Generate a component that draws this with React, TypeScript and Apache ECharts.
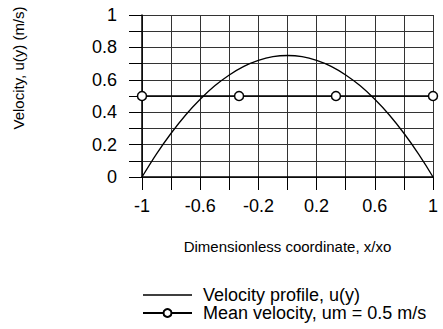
import React, { useEffect, useRef } from "react";
import * as echarts from "echarts";

const profileX = [-1, -0.9, -0.8, -0.7, -0.6, -0.5, -0.4, -0.3, -0.2, -0.1, 0, 0.1, 0.2, 0.3, 0.4, 0.5, 0.6, 0.7, 0.8, 0.9, 1];
const profileU = [0, 0.143, 0.27, 0.383, 0.48, 0.563, 0.63, 0.683, 0.72, 0.743, 0.75, 0.743, 0.72, 0.683, 0.63, 0.563, 0.48, 0.383, 0.27, 0.143, 0];
const meanX = [-1, -0.333, 0.333, 1];
const meanU = [0.5, 0.5, 0.5, 0.5];
const xLabels = ["-1", "-0.6", "-0.2", "0.2", "0.6", "1"];
const yLabels = ["0", "0.2", "0.4", "0.6", "0.8", "1"];

const FONT = "Liberation Sans, Arial, sans-serif";
const LINE_ICON = "path://M0,0h0.01v0.01h-0.01z M0,4.3h49v1.4h-49z M48.99,9.99h0.01v0.01h-0.01z";

export default function App() {
  const ref = useRef<HTMLDivElement>(null);
  useEffect(() => {
    const chart = echarts.init(ref.current!, null, { renderer: "svg" });
    const fmt = (labels: string[]) => (v: number) => {
      const s = String(Math.round(v * 10) / 10);
      return labels.includes(s) ? s : "";
    };
    chart.setOption({
      animation: false,
      grid: { left: 142, right: 10, top: 15, bottom: 152 },
      xAxis: {
        type: "value",
        min: -1,
        max: 1,
        interval: 0.2,
        name: "Dimensionless coordinate, x/xo",
        nameLocation: "middle",
        nameGap: 62,
        nameTextStyle: { color: "#000", fontSize: 15, fontFamily: FONT },
        axisLine: { onZero: false, lineStyle: { color: "#000", width: 1.5 } },
        axisTick: { length: 13, lineStyle: { color: "#000" } },
        axisLabel: { formatter: fmt(xLabels), color: "#000", fontSize: 18, fontFamily: FONT, margin: 20 },
        splitLine: { show: true, lineStyle: { color: "#333", width: 1 } },
      },
      yAxis: {
        type: "value",
        min: 0,
        max: 1,
        interval: 0.1,
        axisLine: { show: true, onZero: false, lineStyle: { color: "#000", width: 1.5 } },
        axisTick: { show: true, length: 13, lineStyle: { color: "#000" } },
        axisLabel: { formatter: fmt(yLabels), color: "#000", fontSize: 18, fontFamily: FONT, margin: 25 },
        splitLine: { show: true, lineStyle: { color: "#333", width: 1 } },
      },
      legend: {
        orient: "vertical",
        left: 142,
        top: 286,
        padding: 0,
        itemWidth: 49,
        itemHeight: 10,
        itemGap: 0,
        textStyle: { color: "#000", fontSize: 18, fontFamily: FONT, lineHeight: 18, padding: [0, 0, 0, 6] },
        data: [
          { name: "Velocity profile, u(y)", icon: LINE_ICON },
          { name: "Mean velocity, um = 0.5 m/s" },
        ],
      },
      graphic: [
        {
          type: "text",
          x: 18,
          y: 68,
          rotation: Math.PI / 2,
          style: {
            text: "Velocity, u(y) (m/s)",
            fill: "#000",
            fontSize: 15,
            fontFamily: FONT,
            textAlign: "center",
            textVerticalAlign: "middle",
          },
        },
      ],
      series: [
        {
          name: "Velocity profile, u(y)",
          type: "line",
          data: profileX.map((x, i) => [x, profileU[i]]),
          symbol: "none",
          smooth: 0.3,
          lineStyle: { color: "#000", width: 1.3 },
          itemStyle: { color: "#000" },
        },
        {
          name: "Mean velocity, um = 0.5 m/s",
          type: "line",
          data: meanX.map((x, i) => [x, meanU[i]]),
          symbol: "circle",
          symbolSize: 9,
          lineStyle: { color: "#000", width: 1.3 },
          itemStyle: { color: "#fff", borderColor: "#000", borderWidth: 1.5 },
        },
      ],
    });
    return () => chart.dispose();
  }, []);
  return <div ref={ref} style={{ width: 443, height: 329, position: "absolute", left: 0, top: 0 }} />;
}
